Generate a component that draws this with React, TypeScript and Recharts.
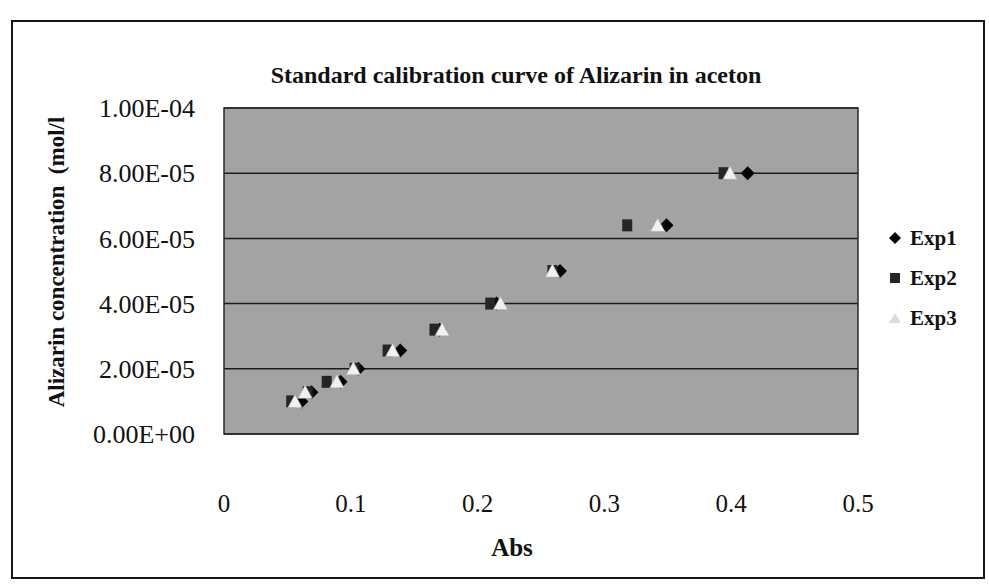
import React from 'react';
import {
  ScatterChart,
  Scatter,
  XAxis,
  YAxis,
  CartesianGrid,
  ReferenceArea,
  Legend,
} from 'recharts';

// concentration (mol/l) of each standard, shared by the three runs
const concentrations = [1e-5, 1.28e-5, 1.6e-5, 2e-5, 2.56e-5, 3.2e-5, 4e-5, 5e-5, 6.4e-5, 8e-5];

// absorbance read for each standard
const absExp1 = [0.061, 0.069, 0.092, 0.106, 0.139, 0.17, 0.215, 0.265, 0.349, 0.413];
const absExp2 = [0.053, 0.066, 0.081, 0.103, 0.129, 0.166, 0.21, 0.259, 0.318, 0.394];
const absExp3 = [0.056, 0.064, 0.089, 0.102, 0.133, 0.172, 0.218, 0.259, 0.342, 0.399];

const xTicks = [0, 0.1, 0.2, 0.3, 0.4, 0.5];
const yTicks = [0, 2e-5, 4e-5, 6e-5, 8e-5, 1e-4];

const seriesNames = ['Exp1', 'Exp2', 'Exp3'];

const toPoints = (abs: number[]) =>
  abs.map((a, i) => ({ abs: a, conc: concentrations[i] }));

const exp1Data = toPoints(absExp1);
const exp2Data = toPoints(absExp2);
const exp3Data = toPoints(absExp3);

const FONT = '"Liberation Serif", "Times New Roman", serif';

// excel style scientific label, e.g. 8.00E-05
const sci = (v: number) => {
  if (v === 0) return '0.00E+00';
  const [m, e] = v.toExponential(2).split('e');
  const n = parseInt(e, 10);
  const sign = n < 0 ? '-' : '+';
  return `${m}E${sign}${String(Math.abs(n)).padStart(2, '0')}`;
};

const Diamond = (p: any) => (
  <polygon
    points={`${p.cx},${p.cy - 7} ${p.cx + 7},${p.cy} ${p.cx},${p.cy + 7} ${p.cx - 7},${p.cy}`}
    fill="#050505"
  />
);

const Square = (p: any) => (
  <rect x={p.cx - 5} y={p.cy - 6} width={10} height={12} fill="#262626" />
);

const Triangle = (p: any) => (
  <polygon
    points={`${p.cx},${p.cy - 7} ${p.cx + 7},${p.cy + 6} ${p.cx - 7},${p.cy + 6}`}
    fill="#f1f1f1"
    stroke="#b8b8b8"
    strokeWidth={0.6}
  />
);

const legendIcons: Record<string, React.ReactNode> = {
  Exp1: <polygon points="7,1 13,7 7,13 1,7" fill="#050505" />,
  Exp2: <rect x={2} y={2} width={10} height={10} fill="#262626" />,
  Exp3: <polygon points="7,2 13,12 1,12" fill="#dcdcdc" />,
};

const LegendBox = () => (
  <div style={{ fontFamily: FONT }}>
    {seriesNames.map((name) => (
      <div
        key={name}
        style={{ display: 'flex', alignItems: 'center', height: 40 }}
      >
        <svg width={14} height={14} style={{ marginRight: 8 }}>
          {legendIcons[name]}
        </svg>
        <span style={{ fontWeight: 'bold', fontSize: 21, color: '#111' }}>{name}</span>
      </div>
    ))}
  </div>
);

export default function App() {
  return (
    <div
      style={{
        position: 'absolute',
        left: 0,
        top: 0,
        width: 989,
        height: 584,
        background: '#fff',
        fontFamily: FONT,
      }}
    >
      <div
        style={{
          position: 'absolute',
          left: 11,
          top: 20,
          width: 970,
          height: 555,
          border: '2px solid #151515',
        }}
      />
      <div
        style={{
          position: 'absolute',
          left: 516,
          top: 63,
          transform: 'translateX(-50%)',
          whiteSpace: 'nowrap',
          fontWeight: 'bold',
          fontSize: 24,
          lineHeight: '24px',
          color: '#111',
        }}
      >
        Standard calibration curve of Alizarin in aceton
      </div>
      <div
        style={{
          position: 'absolute',
          left: 57,
          top: 262,
          transform: 'translate(-50%, -50%) rotate(-90deg)',
          whiteSpace: 'pre',
          fontWeight: 'bold',
          fontSize: 23,
          color: '#111',
        }}
      >
        {'Alizarin concentration  (mol/l'}
      </div>
      <ScatterChart
        width={989}
        height={584}
        margin={{ top: 108, right: 131, left: 0, bottom: 0 }}
      >
        <CartesianGrid
          vertical={false}
          stroke="#1c1c1c"
          strokeWidth={1.5}
          fill="#a3a3a3"
          fillOpacity={1}
        />
        <XAxis
          dataKey="abs"
          type="number"
          domain={[0, 0.5]}
          ticks={xTicks}
          height={150}
          axisLine={false}
          tickLine={false}
          tickSize={0}
          tickMargin={60}
          tick={{ fontSize: 25, fill: '#111', fontFamily: FONT }}
          label={{
            value: 'Abs',
            position: 'insideBottom',
            offset: 28,
            dx: -29,
            style: { fontSize: 25, fontWeight: 'bold', fill: '#111', fontFamily: FONT },
          }}
        />
        <YAxis
          dataKey="conc"
          type="number"
          domain={[0, 1e-4]}
          ticks={yTicks}
          width={224}
          axisLine={false}
          tickLine={false}
          tickSize={0}
          tickMargin={29}
          tickFormatter={sci}
          tick={{ fontSize: 26, fill: '#111', fontFamily: FONT }}
        />
        <ReferenceArea
          x1={0}
          x2={0.5}
          y1={0}
          y2={1e-4}
          fill="none"
          stroke="#2a2a2a"
          strokeWidth={1.5}
        />
        <Scatter
          name="Exp1"
          data={exp1Data}
          shape={Diamond}
          fill="#050505"
          legendType="diamond"
          isAnimationActive={false}
        />
        <Scatter
          name="Exp2"
          data={exp2Data}
          shape={Square}
          fill="#262626"
          legendType="square"
          isAnimationActive={false}
        />
        <Scatter
          name="Exp3"
          data={exp3Data}
          shape={Triangle}
          fill="#f1f1f1"
          legendType="triangle"
          isAnimationActive={false}
        />
        <Legend
          layout="horizontal"
          verticalAlign="middle"
          align="center"
          content={<LegendBox />}
          wrapperStyle={{ position: 'absolute', left: 888, top: 218, width: 95 }}
        />
      </ScatterChart>
    </div>
  );
}
